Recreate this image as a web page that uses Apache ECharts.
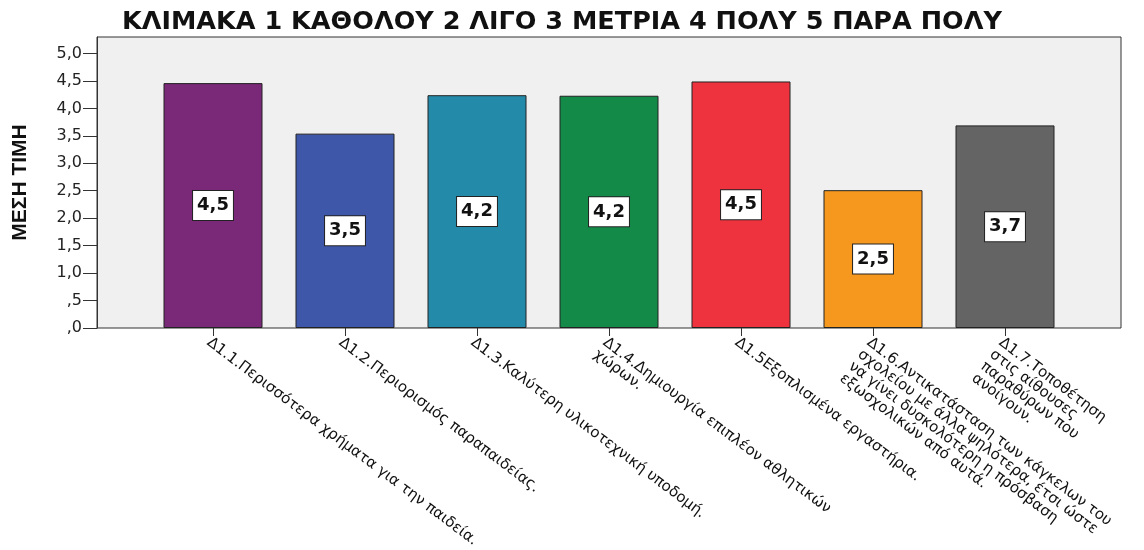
<!DOCTYPE html>
<html>
<head>
<meta charset="utf-8">
<script src="https://cdn.jsdelivr.net/npm/echarts@6/dist/echarts.min.js"></script>
<style>
  html, body { margin: 0; padding: 0; background: #fff; }
  #main { width: 1144px; height: 550px; }
</style>
</head>
<body>
<div id="main"></div>
<script>
// category labels, line breaks as in the original axis
const categories = [
  'Δ1.1.Περισσότερα χρήματα για την παιδεία.',
  'Δ1.2.Περιορισμός παραπαιδείας.',
  'Δ1.3.Καλύτερη υλικοτεχνική υποδομή.',
  'Δ1.4.Δημιουργία επιπλέον αθλητικών\nχώρων.',
  'Δ1.5Εξοπλισμένα εργαστήρια.',
  'Δ1.6.Αντικατάσταση των κάγκελων του\nσχολείου με άλλα ψηλότερα, έτσι ώστε\nνα γίνει δυσκολότερη η πρόσβαση\nεξωσχολικών από αυτά.',
  'Δ1.7.Τοποθέτηση\nστις αίθουσες\nπαραθύρων που\nανοίγουν.',
];
// mean values
const means = [4.46, 3.54, 4.24, 4.23, 4.49, 2.51, 3.69];
const barColors = ['#7a2878', '#3e57a8', '#248aaa', '#138a48', '#ee333f', '#f7981e', '#646464'];
const yTicks = [0, 0.5, 1, 1.5, 2, 2.5, 3, 3.5, 4, 4.5, 5];

// SPSS style: comma decimal, no leading zero
const fmt = (v) => v.toFixed(1).replace('.', ',').replace(/^0/, '');

const myChart = echarts.init(document.getElementById('main'));

const option = {
  animation: false,
  title: {
    text: 'ΚΛΙΜΑΚΑ 1 ΚΑΘΟΛΟΥ 2 ΛΙΓΟ 3 ΜΕΤΡΙΑ 4 ΠΟΛΥ 5 ΠΑΡΑ ΠΟΛΥ',
    left: 117,
    top: 4,
    textStyle: {
      fontFamily: 'DejaVu Sans',
      fontSize: 25.5,
      fontWeight: 'bold',
      color: '#111',
    },
  },
  grid: [
    // frame + background + y axis
    {
      left: 97, right: 23, top: 37, bottom: 222,
      outerBoundsMode: 'none',
      show: true,
      backgroundColor: '#f0f0f0',
      borderColor: '#333',
      borderWidth: 1,
    },
    // bars sit on a narrower band; long labels may run off the page like the original
    { left: 147, right: 73, top: 37, bottom: 222, outerBoundsMode: 'none' },
  ],
  xAxis: [
    { gridIndex: 0, type: 'value', min: 0, max: 1, show: false },
    {
      gridIndex: 1,
      type: 'category',
      data: categories,
      axisLine: { show: false },
      axisTick: {
        show: true,
        alignWithLabel: true,
        length: 8,
        lineStyle: { color: '#333' },
      },
      axisLabel: {
        interval: 0,
        rotate: -37,
        margin: 7,
        align: 'left',
        verticalAlign: 'top',
        fontFamily: 'DejaVu Sans',
        fontSize: 15,
        lineHeight: 15,
        color: '#111',
      },
    },
  ],
  yAxis: [
    {
      gridIndex: 0,
      type: 'value',
      min: 0,
      max: 5.3,
      interval: 0.5,
      name: 'ΜΕΣΗ ΤΙΜΗ',
      nameLocation: 'middle',
      nameGap: 66,
      nameTextStyle: {
        fontFamily: 'Liberation Sans',
        fontSize: 21,
        fontWeight: 'bold',
        color: '#111',
      },
      splitLine: { show: false },
      axisLine: { show: true, lineStyle: { color: '#333' } },
      axisTick: {
        show: true,
        length: 14,
        customValues: yTicks,
        lineStyle: { color: '#333' },
      },
      axisLabel: {
        customValues: yTicks,
        formatter: fmt,
        margin: 15,
        fontFamily: 'DejaVu Sans',
        fontSize: 16,
        color: '#222',
      },
    },
    { gridIndex: 1, type: 'value', min: 0, max: 5.3, show: false },
  ],
  series: [
    {
      type: 'bar',
      xAxisIndex: 1,
      yAxisIndex: 1,
      barWidth: '75%',
      data: means.map((v, i) => ({
        value: v,
        itemStyle: { color: barColors[i] },
      })),
      itemStyle: { borderColor: '#222', borderWidth: 1 },
      label: {
        show: true,
        position: 'inside',
        formatter: (p) => fmt(p.value),
        backgroundColor: '#fff',
        borderColor: '#222',
        borderWidth: 1,
        padding: [6, 4, 5, 4],
        fontFamily: 'DejaVu Sans',
        fontWeight: 'bold',
        fontSize: 18,
        color: '#111',
      },
    },
  ],
};

myChart.setOption(option);
</script>
</body>
</html>
